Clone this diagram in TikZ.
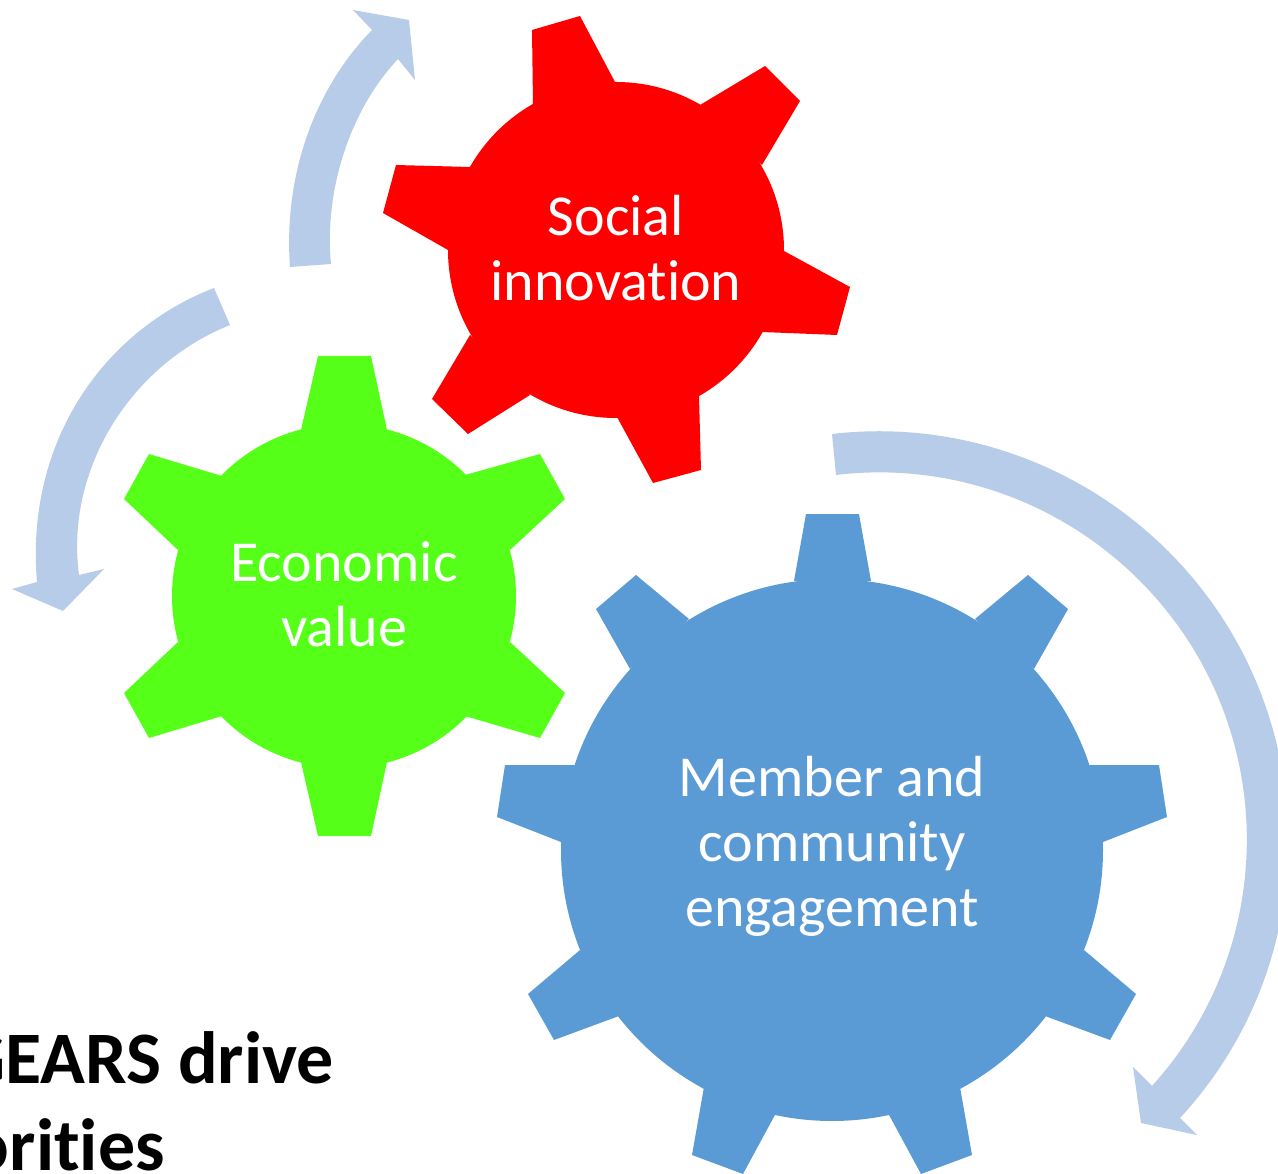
\documentclass[tikz,border=0pt]{standalone}
\usepackage{fontspec}
\setmainfont{Carlito}[Ligatures=NoCommon]
\definecolor{gearred}{HTML}{FF0000}
\definecolor{geargreen}{HTML}{55FF17}
\definecolor{gearblue}{HTML}{5B9BD5}
\definecolor{arrowblue}{HTML}{B7CCE8}
\tikzset{
  gearlabel/.style={text=white,align=center,font=\fontsize{58}{65}\selectfont,inner sep=0pt},
  headline/.style={text=black,font=\fontsize{74}{87}\selectfont\bfseries,inner sep=0pt,anchor=base east},
}
\begin{document}
\begin{tikzpicture}[x=1pt,y=-1pt]
\useasboundingbox (0,0) rectangle (1278,1174);
\clip (0,0) rectangle (1278,1174);
% arrows
\fill[arrowblue] (290,267) .. controls (283,170) and (318,85) .. (372,30) -- (353,10) -- (409,20) -- (415,80) -- (398,59) .. controls (350,110) and (324,190) .. (331,264) -- cycle;
\fill[arrowblue] (214,288) .. controls (105,330) and (25,440) .. (37,582) -- (12,589) -- (63,611) -- (104,569) -- (79,575) .. controls (65,470) and (130,365) .. (230,325) -- cycle;
\fill[arrowblue] (832,434) .. controls (956,419.4) and (1080.2,463.2) .. (1168.5,551.5) .. controls (1323.5,706.5) and (1328.9,957) .. (1180,1118) -- (1197,1135) -- (1141,1123) -- (1133,1067) -- (1152,1086) .. controls (1283,941) and (1277.7,718.7) .. (1139.5,580.5) .. controls (1059.7,500.7) and (948,461.5) .. (836,475) -- cycle;
% red gear
\fill[gearred] (616,250) circle[radius=168];
\fill[gearred] (532,30) -- (580,16) -- (615,82) -- (533,104) -- cycle;
\fill[gearred] (765,66) -- (800,101) -- (762,165) -- (700,105) -- cycle;
\fill[gearred] (850,287) -- (837,335) -- (762,332) -- (784,251) -- cycle;
\fill[gearred] (701,470) -- (653,483) -- (617,417) -- (699,396) -- cycle;
\fill[gearred] (468,434) -- (432,399) -- (470,335) -- (530,395) -- cycle;
\fill[gearred] (383,213) -- (396,165) -- (470,167) -- (448,250) -- cycle;
% green gear
\fill[geargreen] (344,596) circle[radius=172];
\fill[geargreen] (318,356) -- (371,356) -- (387,430) -- (301,430) -- cycle;
\fill[geargreen] (540,454) -- (565,499) -- (510,550) -- (465,475) -- cycle;
\fill[geargreen] (565,693) -- (540,738) -- (465,716) -- (510,642) -- cycle;
\fill[geargreen] (371,836) -- (318,836) -- (301,762) -- (387,762) -- cycle;
\fill[geargreen] (149,738) -- (124,693) -- (178,642) -- (222,716) -- cycle;
\fill[geargreen] (124,499) -- (149,454) -- (222,476) -- (178,550) -- cycle;
% blue gear
\fill[gearblue] (832,850) circle[radius=271];
\fill[gearblue] (806,514) -- (859,514) -- (871,581) -- (794,581) -- cycle;
\fill[gearblue] (1028,575) -- (1068,609) -- (1034,669) -- (975,619) -- cycle;
\fill[gearblue] (1159,765) -- (1167,817) -- (1103,842) -- (1089,765) -- cycle;
\fill[gearblue] (1136,994) -- (1110,1040) -- (1045,1016) -- (1084,950) -- cycle;
\fill[gearblue] (972,1155) -- (921,1174) -- (888,1113) -- (960,1087) -- cycle;
\fill[gearblue] (692,1155) -- (743,1174) -- (776,1113) -- (704,1087) -- cycle;
\fill[gearblue] (528,994) -- (554,1040) -- (619,1016) -- (580,950) -- cycle;
\fill[gearblue] (505,765) -- (497,817) -- (561,842) -- (575,765) -- cycle;
\fill[gearblue] (636,575) -- (596,609) -- (630,669) -- (689,619) -- cycle;
% labels
\node[gearlabel] (social) at (616,248) {Social\\innovation};
\node[gearlabel] (econ) at (344,594) {Economic\\value};
\node[gearlabel] (member) at (832,846) {Member and\\community\\engagement};
\node[headline] (head1) at (334,1083) {GEARS drive};
\node[headline] (head2) at (165,1170) {priorities};
\end{tikzpicture}
\end{document}
